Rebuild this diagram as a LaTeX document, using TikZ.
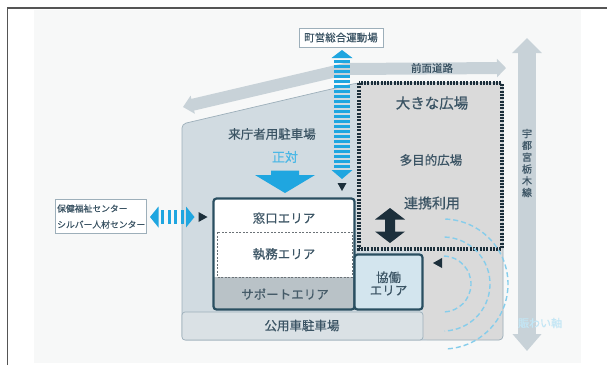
\documentclass[tikz,border=0pt]{standalone}
\usepackage{fontspec}
\setmainfont{Noto Sans CJK JP}[FakeBold=0.6]
\usetikzlibrary{arrows.meta}
\definecolor{txt}{HTML}{3B5464}
\definecolor{bldg}{HTML}{D1DBE1}
\definecolor{bldgline}{HTML}{9DAFBA}
\definecolor{plaza}{HTML}{DADADA}
\definecolor{navy}{HTML}{1C2F3B}
\definecolor{tealb}{HTML}{2A4F61}
\definecolor{skyb}{HTML}{1FA6E0}
\definecolor{road}{HTML}{C8D2D8}
\definecolor{support}{HTML}{B9C2C7}
\definecolor{kyodo}{HTML}{D3E5EE}
\definecolor{arcc}{HTML}{86CDEB}
\definecolor{panel}{HTML}{F7F8F8}
\definecolor{band}{HTML}{DAE1E5}
\definecolor{framec}{HTML}{555555}
\begin{document}
\begin{tikzpicture}[x=1pt,y=-1pt,
  lbl/.style={inner sep=0pt, text=txt, font=\fontsize{12.5}{14}\selectfont},
  smalllbl/.style={inner sep=0pt, text=txt, font=\fontsize{10.5}{12}\selectfont},
  roadband/.style={draw=road, line width=#1},
  tri/.style={fill=navy},
  stripe/.style={fill=skyb}]
\useasboundingbox (0,0) rectangle (607,365);
\fill[white] (0,0) rectangle (607,365);
\fill[panel] (34,10) rectangle (581,363);
\draw[framec, line width=1.5pt] (7.3,365) -- (7.3,8) -- (607,8);

% roads
\coordinate (rA) at (183,107);
\coordinate (rB) at (345,69);
\coordinate (rC) at (506,68);
\draw[roadband=12pt, line join=round, {Triangle[width=18pt,length=10pt]}-{Triangle[width=18pt,length=9pt]}] (rA) -- (rB) -- (rC);
\coordinate (vT) at (527,38);
\coordinate (vB) at (527,351);
\draw[roadband=18pt, {Triangle[width=29pt,length=15pt]}-{Triangle[width=28pt,length=17pt]}] (vT) -- (vB);

% building
\fill[bldg, rounded corners=4pt] (182,340) -- (182,124) -- (357,83) -- (503,83) -- (503,340) -- cycle;
\fill[plaza, rounded corners=4pt] (357,82) -- (503,82) -- (503,340) -- (423,340) -- (423,250) -- (357,250) -- cycle;
\draw[bldgline, line width=0.7pt, rounded corners=4pt] (182,340) -- (182,124) -- (357,83) -- (503,83) -- (503,340) -- cycle;
\draw[bldgline, fill=band, line width=0.7pt, rounded corners=3pt] (182,312) rectangle (423,340);

% office block
\fill[white, rounded corners=3pt] (213.5,198.5) rectangle (354.5,309.5);
\fill[support] (213.5,277) rectangle (354.5,309.5);
\draw[gray!70!txt, line width=0.6pt, dash pattern=on 2pt off 1.5pt] (217,232) rectangle (352,277);
\draw[tealb, line width=2.2pt, rounded corners=3pt] (213.5,198.5) rectangle (354.5,309.5);
\draw[tealb, fill=kyodo, line width=2.2pt, rounded corners=3pt] (354.5,254.5) rectangle (422.5,309.5);

% plaza border
\draw[navy, line width=4pt, dash pattern=on 2pt off 1.3pt] (358.5,83) rectangle (501.5,249);

% arcs
\coordinate (arcC) at (443,284);
\foreach \r in {28,47,65}
  \draw[arcc, line width=1.4pt, dash pattern=on 5pt off 3pt] ([shift={(-88:\r)}]arcC) arc[start angle=-88, end angle=88, radius=\r];

% dark double arrow
\fill[navy] (390,208) -- (405,219.5) -- (395,219.5) -- (395,231.5) -- (405,231.5) -- (390,243) -- (375,231.5) -- (385,231.5) -- (385,219.5) -- (375,219.5) -- cycle;

% vertical striped arrow
\fill[stripe] (342,50) -- (352.5,58) -- (331.5,58) -- cycle;
\foreach \yy in {60,65,...,165} \fill[stripe] (334,\yy) rectangle (350,{\yy+2.7});
\fill[stripe] (342,179) -- (352.5,170) -- (331.5,170) -- cycle;
\fill[tri] (342,191) -- (346.5,183) -- (337.5,183) -- cycle;

% horizontal striped arrow
\fill[stripe] (150,217) -- (158.5,206.5) -- (158.5,227.5) -- cycle;
\foreach \xx in {161,167.5,174,180.5} \fill[stripe] (\xx,210) rectangle ({\xx+3},224);
\fill[stripe] (194.5,217) -- (186,206.5) -- (186,227.5) -- cycle;
\fill[tri] (207.5,217) -- (198.5,212) -- (198.5,222) -- cycle;

% left triangle near arcs
\fill[tri] (433,263) -- (442,258) -- (442,268) -- cycle;

% big arrow
\fill[stripe] (271,170.5) -- (299,170.5) -- (299,175) -- (315,175) -- (285,193) -- (255,175) -- (271,175) -- cycle;

% texts
\node[draw=bldgline, fill=white, line width=0.6pt, minimum width=84pt, minimum height=19pt, inner sep=0pt, text=txt, font=\fontsize{10.5}{12}\selectfont] (undo) at (341,37.5) {町営総合運動場};
\node[smalllbl] (zenmen) at (432,68) {前面道路};
\node[inner sep=0pt, text=txt, align=center, font=\fontsize{10}{11.8}\selectfont] (utsu) at (527,163) {宇\\都\\宮\\栃\\木\\線};
\node[inner sep=0pt, text=arcc!50!white, font=\fontsize{11}{12}\selectfont] (nigiwai) at (540,323) {賑わい軸};
\node[inner sep=0pt, text=txt, font=\fontsize{14.5}{16}\selectfont] (ooki) at (432,103) {大きな広場};
\node[lbl] (tamoku) at (431,160) {多目的広場};
\node[inner sep=0pt, text=txt, font=\fontsize{14}{16}\selectfont] (renkei) at (432,203) {連携利用};
\node[lbl] (raicho) at (272,134) {来庁者用駐車場};
\node[inner sep=0pt, text=skyb!80!white, font=\fontsize{13}{14}\selectfont] (seitai) at (285,157) {正対};
\node[draw=bldgline, fill=white, line width=0.6pt, minimum width=91pt, minimum height=34pt, inner sep=0pt] (hoken) at (100.5,216) {};
\node[inner sep=0pt, text=txt, align=left, anchor=west, font=\fontsize{8.8}{16}\selectfont] (hokentxt) at (57,216.5) {保健福祉センター\\シルバー人材センター};
\node[lbl] (madoguchi) at (284,218) {窓口エリア};
\node[lbl] (shitsumu) at (284,254) {執務エリア};
\node[lbl, text=txt!85!gray] (support) at (285,294) {サポートエリア};
\node[lbl, align=center, font=\fontsize{12.5}{13}\selectfont] (kyodo) at (388.5,283.5) {協働\\エリア};
\node[lbl] (koyo) at (302,325.5) {公用車駐車場};
\end{tikzpicture}
\end{document}
